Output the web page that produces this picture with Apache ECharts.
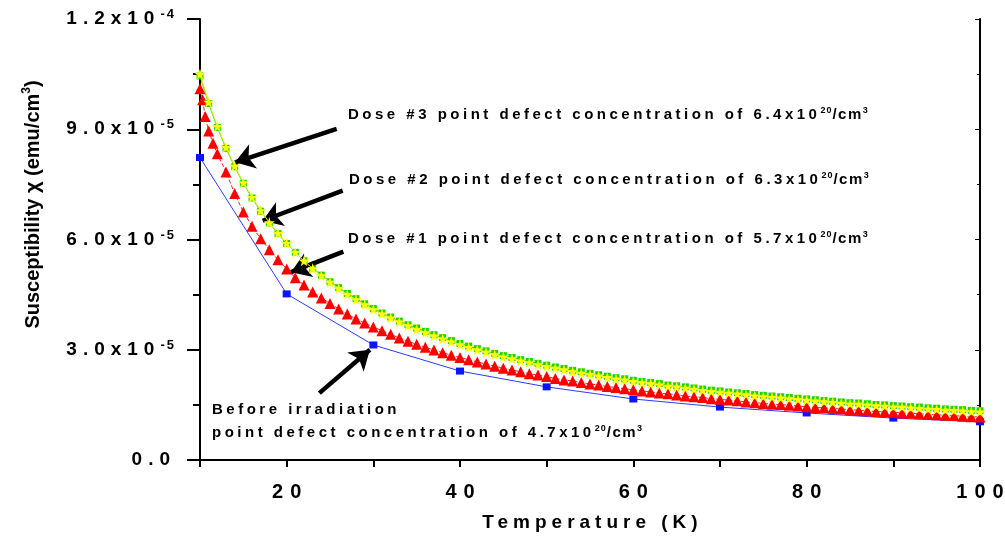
<!DOCTYPE html>
<html>
<head>
<meta charset="utf-8">
<script src="https://cdn.jsdelivr.net/npm/echarts@6/dist/echarts.min.js"></script>
<style>
html, body { margin: 0; padding: 0; background: #fff; }
#container { width: 1005px; height: 537px; }
</style>
</head>
<body>
<div id="container"></div>
<script>
// wide letter tracking like the original plot: a family tag "trkN_M" in the font gives N.M px spacing
(function () {
    var proto = window.CanvasRenderingContext2D && CanvasRenderingContext2D.prototype;
    if (!proto || !('letterSpacing' in proto)) return;
    ['fillText', 'strokeText', 'measureText'].forEach(function (k) {
        var orig = proto[k];
        proto[k] = function () {
            var m = /trk(\d+)(?:_(\d+))?/.exec(this.font);
            this.letterSpacing = m ? (m[1] + (m[2] ? '.' + m[2] : '')) + 'px' : '0px';
            return orig.apply(this, arguments);
        };
    });
})();

function fam(n) { return '"Liberation Sans", trk' + String(n).replace('.', '_'); }

// susceptibility values in units of 1e-5 emu/cm^3
var tempBefore = [10, 20, 30, 40, 50, 60, 70, 80, 90, 100];
var chiBefore = [8.23, 4.52, 3.13, 2.42, 1.99, 1.66, 1.44, 1.28, 1.14, 1.04];

var tempDose1 = [10, 10.3, 10.6, 11, 11.5, 12, 13, 14, 15, 16, 17, 18, 19, 20,
    21, 22, 23, 24, 25, 26, 27, 28, 29, 30, 31, 32, 33, 34, 35, 36, 37, 38, 39, 40,
    41, 42, 43, 44, 45, 46, 47, 48, 49, 50, 51, 52, 53, 54, 55, 56, 57, 58, 59, 60,
    61, 62, 63, 64, 65, 66, 67, 68, 69, 70, 71, 72, 73, 74, 75, 76, 77, 78, 79, 80,
    81, 82, 83, 84, 85, 86, 87, 88, 89, 90, 91, 92, 93, 94, 95, 96, 97, 98, 99, 100];
var chiDose1 = [10.1, 9.8, 9.35, 8.95, 8.62, 8.33, 7.84, 7.25, 6.75, 6.36, 6.02, 5.72, 5.45, 5.2,
    4.96, 4.76, 4.57, 4.41, 4.26, 4.11, 3.97, 3.84, 3.73, 3.62, 3.52, 3.42, 3.32, 3.23, 3.15, 3.07, 2.99, 2.92, 2.85, 2.79,
    2.73, 2.67, 2.61, 2.55, 2.50, 2.45, 2.40, 2.35, 2.31, 2.27, 2.22, 2.18, 2.15, 2.11, 2.07, 2.04, 2.00, 1.97, 1.94, 1.91,
    1.88, 1.85, 1.82, 1.80, 1.77, 1.74, 1.72, 1.70, 1.67, 1.65, 1.63, 1.61, 1.58, 1.56, 1.54, 1.52, 1.51, 1.49, 1.47, 1.45,
    1.43, 1.42, 1.40, 1.39, 1.37, 1.35, 1.34, 1.32, 1.31, 1.30, 1.28, 1.27, 1.26, 1.24, 1.23, 1.22, 1.21, 1.19, 1.18, 1.17];

var tempDose23 = [10, 11, 12, 13, 14, 15, 16, 17, 18, 19, 20,
    21, 22, 23, 24, 25, 26, 27, 28, 29, 30, 31, 32, 33, 34, 35, 36, 37, 38, 39, 40,
    41, 42, 43, 44, 45, 46, 47, 48, 49, 50, 51, 52, 53, 54, 55, 56, 57, 58, 59, 60,
    61, 62, 63, 64, 65, 66, 67, 68, 69, 70, 71, 72, 73, 74, 75, 76, 77, 78, 79, 80,
    81, 82, 83, 84, 85, 86, 87, 88, 89, 90, 91, 92, 93, 94, 95, 96, 97, 98, 99, 100];
var chiDose2 = [10.45, 9.70, 9.05, 8.48, 7.98, 7.53, 7.13, 6.77, 6.45, 6.16, 5.89,
    5.65, 5.42, 5.22, 5.03, 4.85, 4.69, 4.53, 4.39, 4.25, 4.12, 4.00, 3.89, 3.78, 3.68, 3.59, 3.50, 3.41, 3.33, 3.25, 3.17,
    3.10, 3.03, 2.97, 2.90, 2.84, 2.79, 2.73, 2.68, 2.63, 2.58, 2.53, 2.49, 2.44, 2.40, 2.36, 2.32, 2.28, 2.24, 2.21, 2.17,
    2.14, 2.11, 2.08, 2.04, 2.02, 1.99, 1.96, 1.93, 1.90, 1.88, 1.85, 1.83, 1.81, 1.78, 1.76, 1.74, 1.72, 1.70, 1.68, 1.66,
    1.64, 1.62, 1.60, 1.58, 1.56, 1.55, 1.53, 1.51, 1.50, 1.48, 1.47, 1.45, 1.44, 1.42, 1.41, 1.39, 1.38, 1.37, 1.35, 1.34];
var chiDose3 = [10.50, 9.74, 9.08, 8.51, 8.00, 7.55, 7.15, 6.79, 6.46, 6.17, 5.90,
    5.65, 5.42, 5.21, 5.02, 4.84, 4.67, 4.51, 4.37, 4.23, 4.10, 3.98, 3.87, 3.76, 3.66, 3.56, 3.47, 3.38, 3.30, 3.22, 3.14,
    3.07, 3.00, 2.94, 2.87, 2.81, 2.76, 2.70, 2.65, 2.60, 2.55, 2.50, 2.46, 2.41, 2.37, 2.33, 2.29, 2.25, 2.21, 2.18, 2.14,
    2.11, 2.08, 2.05, 2.01, 1.99, 1.96, 1.93, 1.90, 1.87, 1.85, 1.82, 1.80, 1.78, 1.75, 1.73, 1.71, 1.69, 1.67, 1.65, 1.63,
    1.61, 1.59, 1.57, 1.55, 1.53, 1.52, 1.50, 1.48, 1.47, 1.45, 1.44, 1.42, 1.41, 1.39, 1.38, 1.36, 1.35, 1.34, 1.32, 1.31];

var yTickValues = [0, 3, 6, 9, 12];
var yTickMantissa = ['0.0', '3.0', '6.0', '9.0', '1.2'];
var yTickPower = ['', '-5', '-5', '-5', '-4'];

// arrows pointing at the curves (temperature, chi)
var arrows = [
    { from: [25.77, 9.01], to: [14.04, 8.10] },
    { from: [26.46, 7.33], to: [17.23, 6.51] },
    { from: [26.54, 5.67], to: [20.5, 5.11] },
    { from: [23.77, 1.82], to: [29.6, 3.0] }
];

function zip(xs, ys) {
    var out = [];
    for (var i = 0; i < xs.length; i++) out.push([xs[i], ys[i]]);
    return out;
}

var star = 'path://M50,0 L61,35 L98,35 L68,57 L79,91 L50,70 L21,91 L32,57 L2,35 L39,35 Z';

var noteRich = {
    m: { fontFamily: fam(3.5), fontWeight: 'bold', fontSize: 15, lineHeight: 18, fill: '#000' },
    t: { fontFamily: fam(1.5), fontWeight: 'bold', fontSize: 15, lineHeight: 18, fill: '#000' },
    s: { fontFamily: fam(1), fontWeight: 'bold', fontSize: 9, lineHeight: 9, verticalAlign: 'top', fill: '#000' }
};
var unitTail = '{s|20}{t|/cm}{s|3}';
function note(x, y, main, tail) {
    return {
        type: 'text', x: x, y: y, silent: true,
        style: {
            text: '{m|' + main + '}' + (tail || ''),
            rich: noteRich, align: 'left', verticalAlign: 'middle'
        }
    };
}

var dom = document.getElementById('container');
var myChart = echarts.init(dom);

var option = {
    animation: false,
    backgroundColor: '#fff',
    grid: { left: 200, right: 25, top: 19, bottom: 77, outerBoundsMode: 'none', containLabel: false },
    xAxis: [{
        type: 'value', min: 10, max: 100, interval: 10,
        name: 'Temperature (K)', nameLocation: 'middle', nameGap: 50,
        nameTextStyle: { fontFamily: fam(5), fontWeight: 'bold', fontSize: 19, color: '#000', padding: [0, 0, 0, 5] },
        axisLine: { lineStyle: { color: '#000', width: 2 } },
        axisTick: { length: 7, lineStyle: { width: 2 } },
        axisLabel: {
            margin: 19, color: '#000', fontFamily: fam(7), fontWeight: 'bold', fontSize: 20,
            padding: [0, 0, 0, 7],
            formatter: function (v) { return v % 20 === 0 ? String(v) : ''; }
        },
        splitLine: { show: false }
    }, {
        type: 'value', position: 'top', min: 10, max: 100, interval: 10,
        axisLine: { lineStyle: { color: '#000', width: 2 } },
        axisTick: { inside: true, length: 3, lineStyle: { width: 1 } },
        axisLabel: { show: false },
        splitLine: { show: false }
    }],
    yAxis: [{
        type: 'value', min: 0, max: 12, interval: 3,
        name: '{n|Susceptibility χ (emu/cm}{s|3}{n|)}',
        nameLocation: 'middle', nameGap: 155, nameRotate: 90,
        nameTextStyle: {
            padding: [0, 0, 0, 70],
            rich: {
                n: { fontFamily: '"Liberation Sans"', fontWeight: 'bold', fontSize: 20, lineHeight: 24, color: '#000' },
                s: { fontFamily: '"Liberation Sans"', fontWeight: 'bold', fontSize: 12, lineHeight: 12, verticalAlign: 'top', color: '#000' }
            }
        },
        axisLine: { lineStyle: { color: '#000', width: 2 } },
        axisTick: { length: 13, lineStyle: { width: 2 } },
        minorTick: { show: true, splitNumber: 2, length: 7, lineStyle: { color: '#000', width: 2 } },
        axisLabel: {
            margin: 24,
            formatter: function (v) {
                var i = yTickValues.indexOf(Math.round(v));
                if (!yTickPower[i]) return '{m|' + yTickMantissa[i] + '}';
                return '{m|' + yTickMantissa[i] + 'x10}{s|' + yTickPower[i] + '}';
            },
            rich: {
                m: { fontFamily: fam(6), fontWeight: 'bold', fontSize: 19, lineHeight: 24, color: '#000' },
                s: { fontFamily: fam(2), fontWeight: 'bold', fontSize: 13, lineHeight: 11, verticalAlign: 'top', color: '#000' }
            }
        },
        splitLine: { show: false }
    }, {
        type: 'value', position: 'right', min: 0, max: 12, interval: 3,
        axisLine: { lineStyle: { color: '#000', width: 2 } },
        axisTick: { inside: true, length: 5, lineStyle: { width: 1 } },
        minorTick: { show: true, splitNumber: 2, length: 3, lineStyle: { color: '#000' } },
        axisLabel: { show: false },
        splitLine: { show: false }
    }],
    series: [{
        name: 'Before irradiation', type: 'line',
        data: zip(tempBefore, chiBefore),
        symbol: 'rect', symbolSize: [8, 7],
        itemStyle: { color: '#0a14ff' },
        lineStyle: { color: '#2a3cff', width: 1 },
        z: 2,
        markLine: {
            silent: true, animation: false,
            symbol: ['none', 'arrow'], symbolSize: 19,
            lineStyle: { color: '#000', width: 4.5, type: 'solid' },
            label: { show: false },
            emphasis: { disabled: true },
            data: arrows.map(function (a) { return [{ coord: a.from }, { coord: a.to }]; })
        }
    }, {
        name: 'Dose #1', type: 'line',
        data: zip(tempDose1, chiDose1),
        symbol: 'triangle', symbolSize: 11,
        itemStyle: { color: '#ff0000' },
        lineStyle: { color: '#ff2020', width: 1, type: 'dashed' },
        z: 3
    }, {
        name: 'Dose #2', type: 'line',
        data: zip(tempDose23, chiDose2),
        symbol: 'rect', symbolSize: 7,
        itemStyle: { color: '#1ed400' },
        lineStyle: { color: '#30d000', width: 1 },
        z: 4
    }, {
        name: 'Dose #3', type: 'line',
        data: zip(tempDose23, chiDose3),
        symbol: star, symbolSize: 11,
        itemStyle: { color: '#ffff00' },
        lineStyle: { color: '#e0f000', width: 1 },
        z: 5
    }],
    graphic: [
        note(348, 115, 'Dose #3 point defect concentration of 6.4x10', unitTail),
        note(349, 180, 'Dose #2 point defect concentration of 6.3x10', unitTail),
        note(348, 239, 'Dose #1 point defect concentration of 5.7x10', unitTail),
        note(212, 410, 'Before irradiation', ''),
        note(212, 433, 'point defect concentration of 4.7x10', unitTail)
    ]
};

if (option && typeof option === 'object') {
    myChart.setOption(option, true);
}
</script>
</body>
</html>
